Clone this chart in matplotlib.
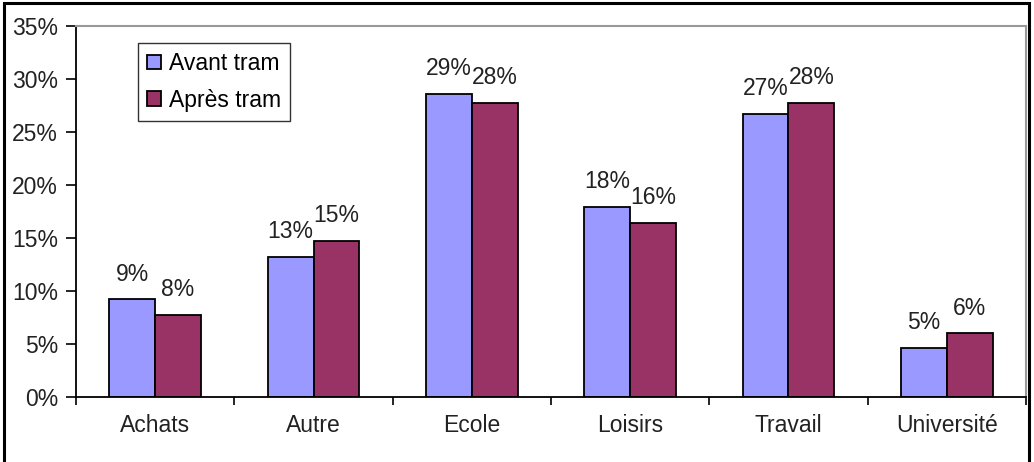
import matplotlib.pyplot as plt
import numpy as np
from matplotlib.patches import Rectangle
from matplotlib.ticker import FuncFormatter, FixedLocator

plt.rcParams['font.family'] = ['Liberation Sans', 'DejaVu Sans']

# data (percent)
categories = ["Achats", "Autre", "Ecole", "Loisirs", "Travail", "Université"]
avant_tram = [9.2, 13.2, 28.6, 17.9, 26.7, 4.6]
apres_tram = [7.7, 14.7, 27.7, 16.4, 27.7, 6.0]
series_names = ["Avant tram", "Après tram"]

FS = 16.5

fig = plt.figure(figsize=(10.34, 4.62), dpi=100)
ax = fig.add_axes([76 / 1034, 65 / 462, 950 / 1034, 371 / 462])

x = np.arange(len(categories))
w = 0.29
b1 = ax.bar(x - w / 2, avant_tram, w, color="#9999FF", edgecolor="black", lw=1.3,
            label=series_names[0])
b2 = ax.bar(x + w / 2, apres_tram, w, color="#993366", edgecolor="black", lw=1.3,
            label=series_names[1])

for bars, vals in [(b1, avant_tram), (b2, apres_tram)]:
    for rect, v in zip(bars, vals):
        ax.annotate(f"{round(v)}%", (rect.get_x() + rect.get_width() / 2, v),
                    xytext=(0, 10), textcoords="offset points",
                    ha="center", va="bottom", fontsize=FS, color="#222222")

ax.set_xlim(-0.5, len(categories) - 0.5)
ax.set_ylim(0, 35)
ax.set_yticks(np.arange(0, 36, 5))
ax.yaxis.set_major_formatter(FuncFormatter(lambda v, p: f"{v:.0f}%"))
ax.set_xticks(x)
ax.set_xticklabels(categories)
ax.xaxis.set_minor_locator(FixedLocator(np.arange(-0.5, len(categories), 1.0)))
ax.tick_params(axis="x", which="major", length=0, pad=12, labelsize=FS, colors="#222222")
ax.tick_params(axis="x", which="minor", length=6, width=1.2, direction="out")
ax.tick_params(axis="y", length=7, width=1.2, direction="out", pad=6,
               labelsize=FS, colors="black", labelcolor="#222222")

for side in ["top", "right"]:
    ax.spines[side].set_color("#999999")
    ax.spines[side].set_linewidth(1.5)
for side in ["left", "bottom"]:
    ax.spines[side].set_color("black")
    ax.spines[side].set_linewidth(1.3)

leg = ax.legend(loc="upper left", bbox_to_anchor=(0.065, 0.955), fontsize=FS,
                frameon=True, fancybox=False, edgecolor="black",
                handlelength=0.6, handleheight=0.6, handletextpad=0.35,
                labelspacing=0.6, borderpad=0.4, borderaxespad=0)
leg.get_frame().set_linewidth(1.0)

# outer chart frame
fig.patches.append(Rectangle((4 / 1034, -0.02), 1025 / 1034, 1.0 - 3 / 462 + 0.02,
                             transform=fig.transFigure, fill=False,
                             edgecolor="black", lw=2.2))

fig.savefig("out.png", dpi=100)
